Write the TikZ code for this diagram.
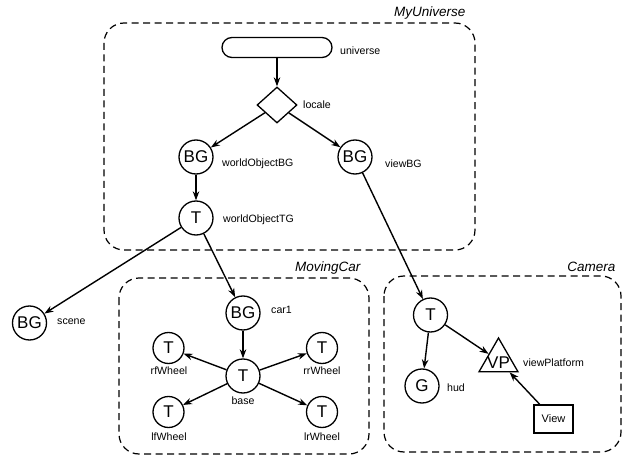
\documentclass[tikz,border=0pt]{standalone}
\usepackage{fontspec}
\setmainfont{Liberation Sans}
\usetikzlibrary{arrows.meta,shapes.geometric}
\begin{document}
\begin{tikzpicture}[x=1pt,y=-1pt,
  grp/.style={draw,line width=1.2pt,dash pattern=on 7pt off 4.5pt,rounded corners=20pt},
  grptitle/.style={font=\fontsize{13.5}{13.5}\selectfont\itshape,anchor=east},
  nd/.style={draw,circle,line width=1.3pt,minimum size=34pt,inner sep=0pt,font=\fontsize{17}{17}\selectfont},
  wh/.style={nd,minimum size=31pt},
  lbl/.style={font=\fontsize{10.6}{10.6}\selectfont,anchor=west,inner sep=0pt},
  lblc/.style={font=\fontsize{10.6}{10.6}\selectfont,inner sep=0pt},
  arr/.style={-{Stealth[length=9pt,width=6.5pt]},line width=1.4pt},
  box/.style={draw,line width=1.3pt,inner sep=0pt}]
\useasboundingbox (0,0) rectangle (624,457);
% groups
\draw[grp] (104,23) rectangle (475,250);
\node[grptitle] at (469,13) {MyUniverse};
\draw[grp] (119,278) rectangle (369,454);
\node[grptitle] at (364,268) {MovingCar};
\draw[grp] (384,276) rectangle (621,452);
\node[grptitle] at (619,267) {Camera};
% universe
\node[box,rounded corners=10pt,minimum width=110pt,minimum height=20pt] (uni) at (277,47.5) {};
\node[lbl] at (340,51) {universe};
\node[box,diamond,minimum width=40pt,minimum height=36pt] (loc) at (277,105) {};
\node[lbl] at (303,105) {locale};
\node[nd] (wobg) at (196,157) {BG};
\node[lbl] at (222,164) {worldObjectBG};
\node[nd] (vbg) at (355,157) {BG};
\node[lbl] at (385,164) {viewBG};
\node[nd] (wotg) at (196,218) {T};
\node[lbl] at (223,220) {worldObjectTG};
\node[nd] (scene) at (29.5,323) {BG};
\node[lbl] at (57,322) {scene};
% moving car
\node[nd] (car) at (243,313) {BG};
\node[lbl] at (271,310) {car1};
\node[nd] (base) at (243,376) {T};
\node[lblc] at (243,401) {base};
\node[wh] (rf) at (168.5,348) {T};
\node[lblc] at (169,371) {rfWheel};
\node[wh] (rr) at (322,348) {T};
\node[lblc] at (322,371) {rrWheel};
\node[wh] (lf) at (168.5,412) {T};
\node[lblc] at (169,437) {lfWheel};
\node[wh] (lr) at (322,412) {T};
\node[lblc] at (322,437) {lrWheel};
% camera
\node[nd] (ct) at (430.5,315) {T};
\node[nd] (hud) at (422,386) {G};
\node[lbl] at (447,388) {hud};
\node[draw,regular polygon,regular polygon sides=3,minimum size=45pt,inner sep=0pt,line width=1.3pt] (vp) at (498.5,360.5) {};
\node[font=\fontsize{17}{17}\selectfont,inner sep=0pt] at (498.5,363) {VP};
\node[lbl] at (523,363) {viewPlatform};
\node[box,minimum width=39pt,minimum height=28pt,font=\fontsize{11}{11}\selectfont] (view) at (553.5,419) {View};
% connectors
\draw[arr] (uni) -- (loc);
\draw[arr] (loc) -- (wobg);
\draw[arr] (loc) -- (vbg);
\draw[arr] (wobg) -- (wotg);
\draw[arr] (wotg) -- (scene);
\draw[arr] (wotg) -- (car);
\draw[arr] (vbg) -- (ct);
\draw[arr] (car) -- (base);
\draw[arr] (base) -- (rf);
\draw[arr] (base) -- (rr);
\draw[arr] (base) -- (lf);
\draw[arr] (base) -- (lr);
\draw[arr] (ct) -- (hud);
\draw[arr] (ct) -- (vp);
\draw[arr] (view) -- (vp);
\end{tikzpicture}
\end{document}
